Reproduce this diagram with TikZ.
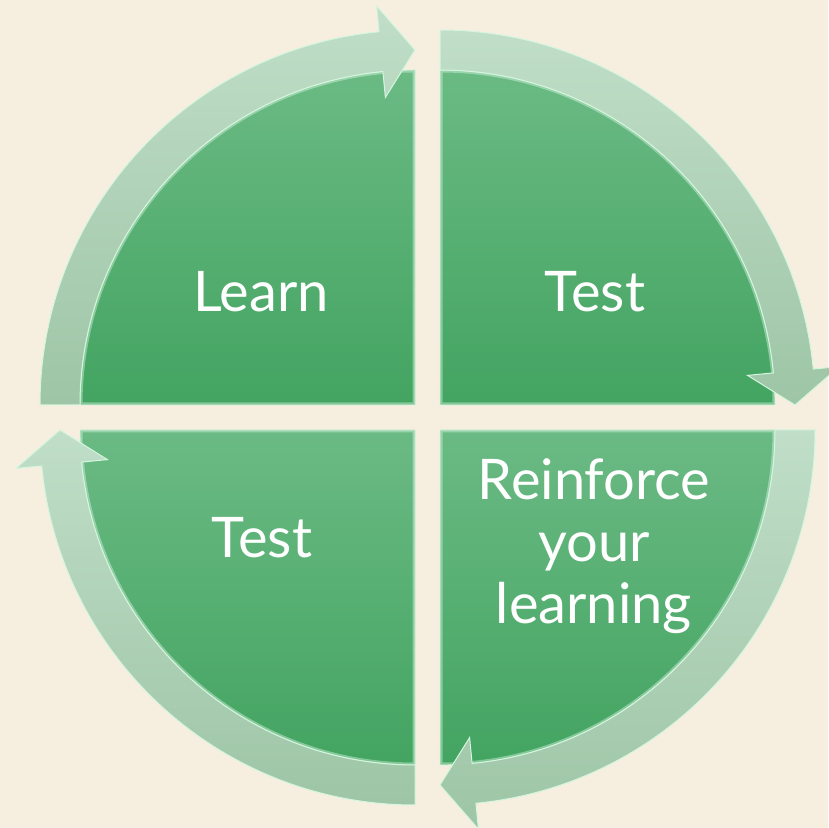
\documentclass[tikz,border=0pt]{standalone}
\usepackage{fontspec}
\setmainfont{Lato}
\definecolor{paper}{HTML}{F6EFDF}
\definecolor{segtop}{HTML}{6BBA84}
\definecolor{segbot}{HTML}{43A461}
\definecolor{bandtop}{HTML}{C0DEC8}
\definecolor{bandbot}{HTML}{9EC5A6}
\definecolor{rim}{HTML}{D4F5DE}
\begin{document}
\begin{tikzpicture}[x=1pt,y=1pt,
  sector/.style={top color=segtop, bottom color=segbot},
  bevel/.style={draw=rim, line width=5pt, opacity=0.45},
  band/.style={top color=bandtop, bottom color=bandbot, draw=rim, line width=1pt, line join=miter},
  label/.style={text=white, font=\fontsize{56}{62}\selectfont, align=center}]
\fill[paper] (0,0) rectangle (828,828);
\useasboundingbox (0,0) rectangle (828,828);
% four quarters, each with its own arrow running clockwise
\foreach \cx/\cy/\a in {415/423/180, 440/423/90, 440/398/0, 415/398/270}{
  \pgfmathsetmacro{\e}{\a-90}
  \pgfmathsetmacro{\h}{\a-84.5}
  \begin{scope}[shift={(\cx,\cy)}]
    \path[sector] (0,0) -- (\a:335) arc[start angle=\a, end angle=\e, radius=335] -- cycle;
    \begin{scope}
      \clip (0,0) -- (\a:335) arc[start angle=\a, end angle=\e, radius=335] -- cycle;
      \draw[bevel] (0,0) -- (\a:335) arc[start angle=\a, end angle=\e, radius=335] -- cycle;
    \end{scope}
    \draw[rim, line width=0.8pt] (0,0) -- (\a:335) arc[start angle=\a, end angle=\e, radius=335] -- cycle;
    \draw[band] (\a:335) -- (\a:375) arc[start angle=\a, end angle=\h, radius=375]
      -- (\h:401) -- (\e:355) -- (\h:309) -- (\h:335)
      arc[start angle=\h, end angle=\a, radius=335] -- cycle;
  \end{scope}
}
\node[label, anchor=base] (learn) at (261,516) {Learn};
\node[label, anchor=base] (test) at (595,516) {Test};
\node[label] (reinforce) at (594,282) {Reinforce\\your\\learning};
\node[label, anchor=base] (retest) at (262,270) {Test};
\end{tikzpicture}
\end{document}
